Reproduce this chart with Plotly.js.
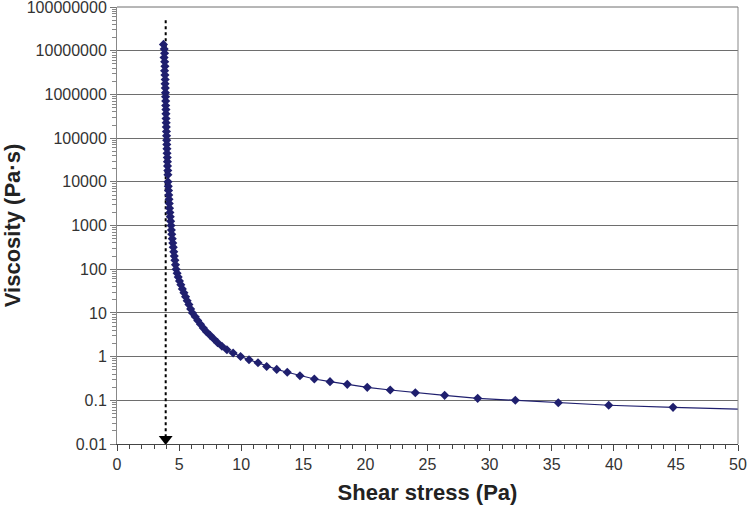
<!DOCTYPE html>
<html>
<head>
<meta charset="utf-8">
<script src="https://cdn.plot.ly/plotly-3.0.1.min.js"></script>
<style>html,body{margin:0;padding:0;background:#fff;}#chart{width:747px;height:506px;}</style>
</head>
<body>
<div id="chart"></div>
<script>
// Shear stress (Pa)
const shearStress = [
  3.74, 3.80, 3.83, 3.79, 3.84, 3.86, 3.83, 3.86, 3.88, 3.87, 3.89, 3.90,
  3.91, 3.92, 3.92, 3.94, 3.94, 3.95, 3.96, 3.97, 3.98, 3.99,
  4.00, 4.01, 4.02, 4.03, 4.05, 4.06, 4.07, 4.09, 4.10, 4.11,
  4.13, 4.15, 4.17, 4.19, 4.21, 4.23, 4.26, 4.29, 4.32, 4.35,
  4.38, 4.41, 4.45, 4.49, 4.53, 4.57, 4.61, 4.66, 4.71, 4.76,
  4.84, 4.93, 5.03, 5.14, 5.26, 5.39, 5.52, 5.65, 5.79, 5.93, 6.08,
  6.30, 6.50, 6.72, 6.95, 7.20, 7.50, 7.80, 8.10, 8.45, 8.85, 9.35, 9.95,
  10.63, 11.35, 12.05, 12.86, 13.71, 14.73, 15.89, 17.15, 18.54, 20.15,
  22.00, 24.02, 26.38, 29.04, 32.07, 35.53, 39.59, 44.77, 51.0
];
// Viscosity (Pa·s)
const viscosity = [
  1.4e7, 1.1e7, 8.8e6, 7.0e6, 5.6e6, 4.4e6, 3.5e6, 2.8e6, 2.2e6, 1.75e6, 1.4e6, 1.1e6,
  8.9e5, 7.1e5, 5.6e5, 4.5e5, 3.6e5, 2.8e5, 2.25e5, 1.8e5, 1.42e5, 1.13e5,
  9.0e4, 7.2e4, 5.7e4, 4.5e4, 3.6e4, 2.9e4, 2.3e4, 1.82e4, 1.45e4, 1.0e4,
  7.9e3, 6.3e3, 5.0e3, 4.0e3, 3.2e3, 2.5e3, 2.0e3, 1.6e3, 1.26e3, 1.0e3,
  790, 630, 500, 400, 320, 250, 200, 160, 126, 100,
  81, 66, 54, 44, 35.5, 29, 23.4, 19, 15.5, 12.3, 10,
  8.2, 6.7, 5.5, 4.5, 3.7, 3.07, 2.53, 2.09, 1.73, 1.44, 1.21, 1.01,
  0.85, 0.724, 0.595, 0.51, 0.438, 0.366, 0.307, 0.267, 0.232, 0.198,
  0.172, 0.149, 0.130, 0.111, 0.100, 0.088, 0.077, 0.069, 0.0615
];
// Yield stress marker (dotted arrow)
const yieldStress = 3.92;
const arrowTop = 5e7;
const arrowBottom = 0.01;

const yTickVals = [0.01, 0.1, 1, 10, 100, 1000, 10000, 100000, 1000000, 10000000, 100000000];
const yTickText = ["0.01", "0.1", "1", "10", "100", "1000", "10000", "100000", "1000000", "10000000", "100000000"];
const xTickVals = [0, 5, 10, 15, 20, 25, 30, 35, 40, 45, 50];

const navy = "#1f1f6e";

const traces = [
  {
    x: [yieldStress, yieldStress],
    y: [arrowTop, arrowBottom * 1.35],
    mode: "lines",
    line: {color: "#000", width: 2, dash: "dot"},
    hoverinfo: "skip",
    showlegend: false
  },
  {
    x: [yieldStress],
    y: [arrowBottom * 1.3],
    mode: "markers",
    marker: {symbol: "triangle-down", size: 12, color: "#000"},
    cliponaxis: false,
    hoverinfo: "skip",
    showlegend: false
  },
  {
    x: shearStress,
    y: viscosity,
    mode: "lines+markers",
    line: {color: navy, width: 1.2},
    marker: {symbol: "diamond", size: 7, color: navy},
    showlegend: false
  }
];

const layout = {
  width: 747,
  height: 506,
  margin: {l: 117, r: 9, t: 7, b: 62},
  paper_bgcolor: "#fff",
  plot_bgcolor: "#fff",
  font: {family: "Arial, Liberation Sans, sans-serif", color: "#222", size: 16},
  showlegend: false,
  xaxis: {
    range: [0, 50],
    tickmode: "array",
    tickvals: xTickVals,
    ticks: "outside",
    ticklen: 6,
    tickcolor: "#444",
    showgrid: false,
    zeroline: false,
    showline: true,
    linecolor: "#444",
    linewidth: 1,
    automargin: false,
    minor: {ticks: "outside", ticklen: 4, dtick: 1, tickcolor: "#444", showgrid: false},
    tickfont: {size: 16, color: "#333"},
    title: {text: "<b>Shear stress (Pa)</b>", font: {size: 22, color: "#222"}, standoff: 12}
  },
  yaxis: {
    type: "log",
    range: [-2, 8.002],
    tickmode: "array",
    tickvals: yTickVals,
    ticktext: yTickText,
    ticklabeloverflow: "allow",
    ticks: "outside",
    ticklen: 6,
    tickcolor: "#777",
    showgrid: true,
    gridcolor: "#6e6e6e",
    gridwidth: 1,
    zeroline: false,
    showline: true,
    linecolor: "#888",
    linewidth: 1,
    automargin: false,
    minor: {ticks: "outside", ticklen: 4, dtick: "D1", tickcolor: "#888", showgrid: false},
    tickfont: {size: 16, color: "#333"},
    title: {text: "<b>Viscosity (Pa·s)</b>", font: {size: 22, color: "#222"}, standoff: 10}
  },
  shapes: [
    {type: "line", xref: "paper", yref: "paper", x0: 1, x1: 1, y0: 0, y1: 1, line: {color: "#888", width: 1}},
    {type: "line", xref: "paper", yref: "paper", x0: 0, x1: 1, y0: 1, y1: 1, line: {color: "#6e6e6e", width: 1}}
  ]
};

Plotly.newPlot("chart", traces, layout, {displayModeBar: false, staticPlot: true});
</script>
</body>
</html>
